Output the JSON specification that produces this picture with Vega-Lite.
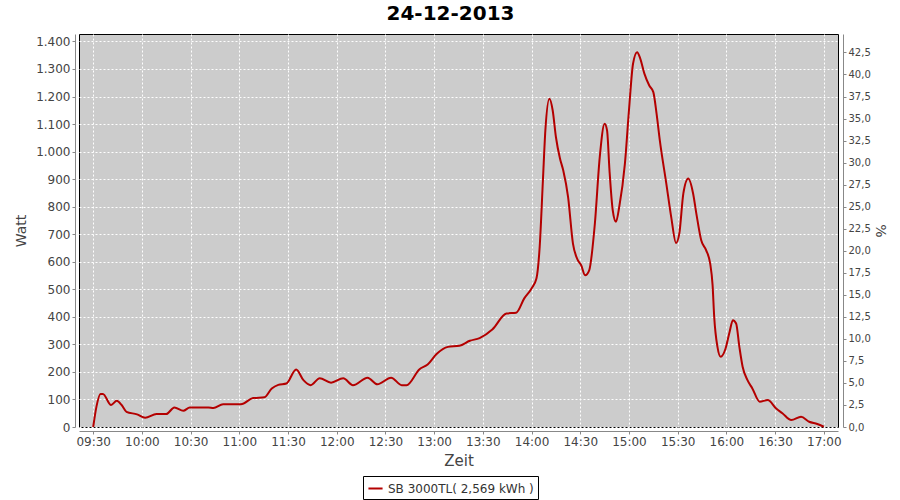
{
  "$schema": "https://vega.github.io/schema/vega-lite/v6.json",
  "width": 759,
  "height": 393,
  "autosize": {"type": "none"},
  "padding": {"left": 79, "top": 34, "right": 62, "bottom": 73},
  "background": "white",
  "title": {"text": "24-12-2013", "fontSize": 20, "font": "DejaVu Sans", "fontWeight": "bold", "color": "#000000", "anchor": "middle", "dx": -8, "offset": 10},
  "config": {
    "view": {"fill": "#cccccc", "stroke": "#000000", "strokeWidth": 1},
    "axis": {
      "labelFont": "DejaVu Sans", "labelFontSize": 12, "labelColor": "#444444",
      "titleFont": "DejaVu Sans", "titleFontSize": 15, "titleFontWeight": "normal", "titleColor": "#444444",
      "domainColor": "#888888", "tickColor": "#888888", "tickSize": 3, "labelPadding": 2,
      "gridColor": "#ffffff", "gridDash": [2, 2], "gridOpacity": 1, "gridWidth": 1
    }
  },
  "data": {"values": [
    {"t": "2013-12-24T09:30:00Z", "W": 0},
    {"t": "2013-12-24T09:32:00Z", "W": 74},
    {"t": "2013-12-24T09:34:30Z", "W": 120},
    {"t": "2013-12-24T09:36:00Z", "W": 120},
    {"t": "2013-12-24T09:41:00Z", "W": 80},
    {"t": "2013-12-24T09:44:30Z", "W": 95},
    {"t": "2013-12-24T09:47:30Z", "W": 80},
    {"t": "2013-12-24T09:50:30Z", "W": 55},
    {"t": "2013-12-24T09:57:00Z", "W": 46},
    {"t": "2013-12-24T10:02:00Z", "W": 34},
    {"t": "2013-12-24T10:09:00Z", "W": 47},
    {"t": "2013-12-24T10:15:00Z", "W": 47},
    {"t": "2013-12-24T10:20:00Z", "W": 71},
    {"t": "2013-12-24T10:25:30Z", "W": 59},
    {"t": "2013-12-24T10:29:30Z", "W": 71},
    {"t": "2013-12-24T10:41:00Z", "W": 71},
    {"t": "2013-12-24T10:44:00Z", "W": 69},
    {"t": "2013-12-24T10:50:00Z", "W": 83},
    {"t": "2013-12-24T11:01:00Z", "W": 83},
    {"t": "2013-12-24T11:08:30Z", "W": 105},
    {"t": "2013-12-24T11:15:30Z", "W": 108},
    {"t": "2013-12-24T11:20:00Z", "W": 140},
    {"t": "2013-12-24T11:24:00Z", "W": 153},
    {"t": "2013-12-24T11:29:00Z", "W": 158},
    {"t": "2013-12-24T11:35:00Z", "W": 209},
    {"t": "2013-12-24T11:39:30Z", "W": 170},
    {"t": "2013-12-24T11:44:00Z", "W": 152},
    {"t": "2013-12-24T11:49:30Z", "W": 177},
    {"t": "2013-12-24T11:56:30Z", "W": 161},
    {"t": "2013-12-24T12:04:00Z", "W": 177},
    {"t": "2013-12-24T12:10:00Z", "W": 152},
    {"t": "2013-12-24T12:19:00Z", "W": 179},
    {"t": "2013-12-24T12:25:00Z", "W": 155},
    {"t": "2013-12-24T12:33:30Z", "W": 179},
    {"t": "2013-12-24T12:40:00Z", "W": 152},
    {"t": "2013-12-24T12:43:00Z", "W": 152},
    {"t": "2013-12-24T12:51:00Z", "W": 210},
    {"t": "2013-12-24T12:56:00Z", "W": 227},
    {"t": "2013-12-24T13:01:30Z", "W": 265},
    {"t": "2013-12-24T13:08:30Z", "W": 291},
    {"t": "2013-12-24T13:15:30Z", "W": 295},
    {"t": "2013-12-24T13:22:00Z", "W": 313},
    {"t": "2013-12-24T13:28:00Z", "W": 323},
    {"t": "2013-12-24T13:36:00Z", "W": 355},
    {"t": "2013-12-24T13:44:30Z", "W": 412},
    {"t": "2013-12-24T13:50:30Z", "W": 415},
    {"t": "2013-12-24T13:55:30Z", "W": 467},
    {"t": "2013-12-24T14:00:00Z", "W": 503},
    {"t": "2013-12-24T14:03:00Z", "W": 539},
    {"t": "2013-12-24T14:05:00Z", "W": 654},
    {"t": "2013-12-24T14:07:00Z", "W": 896},
    {"t": "2013-12-24T14:08:30Z", "W": 1077},
    {"t": "2013-12-24T14:11:00Z", "W": 1192},
    {"t": "2013-12-24T14:13:00Z", "W": 1150},
    {"t": "2013-12-24T14:15:00Z", "W": 1053},
    {"t": "2013-12-24T14:17:30Z", "W": 975},
    {"t": "2013-12-24T14:19:30Z", "W": 932},
    {"t": "2013-12-24T14:22:30Z", "W": 835},
    {"t": "2013-12-24T14:25:30Z", "W": 666},
    {"t": "2013-12-24T14:28:30Z", "W": 606},
    {"t": "2013-12-24T14:30:30Z", "W": 588},
    {"t": "2013-12-24T14:33:00Z", "W": 551},
    {"t": "2013-12-24T14:35:30Z", "W": 569},
    {"t": "2013-12-24T14:39:00Z", "W": 739},
    {"t": "2013-12-24T14:42:00Z", "W": 980},
    {"t": "2013-12-24T14:45:00Z", "W": 1101},
    {"t": "2013-12-24T14:46:30Z", "W": 1077},
    {"t": "2013-12-24T14:48:00Z", "W": 932},
    {"t": "2013-12-24T14:50:00Z", "W": 787},
    {"t": "2013-12-24T14:52:00Z", "W": 745},
    {"t": "2013-12-24T14:54:00Z", "W": 799},
    {"t": "2013-12-24T14:57:30Z", "W": 956},
    {"t": "2013-12-24T15:00:00Z", "W": 1150},
    {"t": "2013-12-24T15:02:30Z", "W": 1319},
    {"t": "2013-12-24T15:05:00Z", "W": 1361},
    {"t": "2013-12-24T15:07:00Z", "W": 1337},
    {"t": "2013-12-24T15:09:30Z", "W": 1283},
    {"t": "2013-12-24T15:12:30Z", "W": 1240},
    {"t": "2013-12-24T15:15:00Z", "W": 1216},
    {"t": "2013-12-24T15:17:00Z", "W": 1138},
    {"t": "2013-12-24T15:19:00Z", "W": 1041},
    {"t": "2013-12-24T15:23:00Z", "W": 884},
    {"t": "2013-12-24T15:26:00Z", "W": 763},
    {"t": "2013-12-24T15:29:00Z", "W": 668},
    {"t": "2013-12-24T15:31:00Z", "W": 702},
    {"t": "2013-12-24T15:33:30Z", "W": 848},
    {"t": "2013-12-24T15:36:30Z", "W": 902},
    {"t": "2013-12-24T15:39:30Z", "W": 848},
    {"t": "2013-12-24T15:41:30Z", "W": 775},
    {"t": "2013-12-24T15:44:30Z", "W": 678},
    {"t": "2013-12-24T15:47:30Z", "W": 642},
    {"t": "2013-12-24T15:50:00Z", "W": 594},
    {"t": "2013-12-24T15:51:30Z", "W": 515},
    {"t": "2013-12-24T15:52:30Z", "W": 400},
    {"t": "2013-12-24T15:54:30Z", "W": 291},
    {"t": "2013-12-24T15:56:30Z", "W": 255},
    {"t": "2013-12-24T15:59:30Z", "W": 285},
    {"t": "2013-12-24T16:02:00Z", "W": 346},
    {"t": "2013-12-24T16:04:00Z", "W": 388},
    {"t": "2013-12-24T16:06:00Z", "W": 376},
    {"t": "2013-12-24T16:08:00Z", "W": 291},
    {"t": "2013-12-24T16:10:00Z", "W": 219},
    {"t": "2013-12-24T16:13:00Z", "W": 170},
    {"t": "2013-12-24T16:16:00Z", "W": 140},
    {"t": "2013-12-24T16:20:30Z", "W": 92},
    {"t": "2013-12-24T16:25:30Z", "W": 98},
    {"t": "2013-12-24T16:30:30Z", "W": 68},
    {"t": "2013-12-24T16:34:30Z", "W": 50},
    {"t": "2013-12-24T16:40:00Z", "W": 25},
    {"t": "2013-12-24T16:46:00Z", "W": 37},
    {"t": "2013-12-24T16:51:00Z", "W": 19},
    {"t": "2013-12-24T16:56:00Z", "W": 11},
    {"t": "2013-12-24T17:00:00Z", "W": 1}
  ]},
  "encoding": {
    "x": {
      "field": "t", "type": "temporal", "title": "Zeit",
      "scale": {"type": "utc", "domain": [1387876875000, 1387904925000]},
      "axis": {"format": "%H:%M", "offset": 4, "grid": true, "titlePadding": 6,
        "values": [1387877400000, 1387879200000, 1387881000000, 1387882800000, 1387884600000, 1387886400000, 1387888200000, 1387890000000, 1387891800000, 1387893600000, 1387895400000, 1387897200000, 1387899000000, 1387900800000, 1387902600000, 1387904400000]}
    }
  },
  "layer": [
    {
      "mark": {"type": "line", "strokeWidth": 2, "interpolate": "monotone"},
      "encoding": {
        "y": {
          "field": "W", "type": "quantitative", "title": "Watt",
          "scale": {"domain": [0, 1427], "nice": false, "zero": true},
          "axis": {"orient": "left", "offset": 4, "grid": true, "titleFontSize": 14,
            "values": [0, 100, 200, 300, 400, 500, 600, 700, 800, 900, 1000, 1100, 1200, 1300, 1400],
            "labelExpr": "datum.value >= 1000 ? '1.' + format(datum.value - 1000, '03d') : '' + datum.value", "titlePadding": 7}
        },
        "color": {
          "datum": "SB 3000TL( 2,569 kWh )", "type": "nominal",
          "scale": {"range": ["#b40000"]},
          "legend": {"title": null, "orient": "none", "legendX": 284, "legendY": 442,
            "strokeColor": "#000000", "padding": 4, "labelFont": "DejaVu Sans", "labelFontSize": 12,
            "labelColor": "#333333", "symbolType": "stroke", "symbolSize": 200, "symbolStrokeWidth": 2}
        }
      }
    },
    {
      "mark": {"type": "line", "opacity": 0},
      "encoding": {
        "y": {
          "field": "W", "type": "quantitative", "title": "%",
          "scale": {"domain": [0, 1427], "nice": false, "zero": true},
          "axis": {"orient": "right", "offset": 5, "grid": false, "labelFontSize": 10, "titleFontSize": 14,
            "values": [0, 80, 160, 240, 320, 400, 480, 560, 640, 720, 800, 880, 960, 1040, 1120, 1200, 1280, 1360],
            "labelExpr": "floor(datum.value / 32) + ',' + (round(datum.value / 3.2) % 10)", "titlePadding": 2}
        }
      }
    }
  ],
  "resolve": {"scale": {"y": "independent"}, "axis": {"y": "independent"}}
}
